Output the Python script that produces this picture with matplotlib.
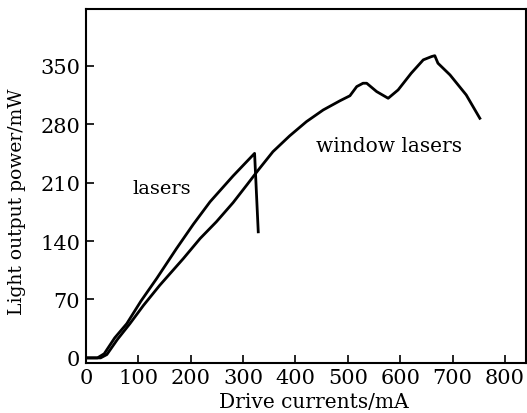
import matplotlib
matplotlib.use('Agg')
import matplotlib.pyplot as plt

plt.rcParams['font.family'] = 'DejaVu Serif'
plt.rcParams.update({'font.size': 14})

# window lasers curve
x_win = [0, 28, 40, 60, 84, 110, 141, 186, 218, 249, 281, 307, 329, 357,
         389, 421, 453, 485, 504, 517, 529, 536, 555, 577, 596, 621, 644,
         660, 666, 672, 695, 726, 752]
y_win = [0, 0, 4, 22, 41, 63, 87, 119, 143, 163, 186, 207, 225, 247,
         266, 283, 297, 308, 314, 325, 329, 329, 319, 311, 321, 341, 357,
         361, 362, 353, 339, 315, 287]

# conventional lasers curve, ends with the sudden drop
x_las = [0, 22, 35, 55, 78, 105, 135, 173, 205, 237, 281, 322, 329]
y_las = [0, 0, 5, 24, 41, 68, 95, 131, 160, 187, 218, 245, 151]

xticks = [0, 100, 200, 300, 400, 500, 600, 700, 800]
yticks = [0, 70, 140, 210, 280, 350]

fig = plt.figure(figsize=(5.27, 4.14), dpi=100)
ax = fig.add_axes([0.163, 0.121, 0.835, 0.855])

ax.plot(x_win, y_win, color='black', lw=2)
ax.plot(x_las, y_las, color='black', lw=2)

ax.text(145, 204, "lasers", ha='center', va='center')
ax.text(578, 255, "window lasers", ha='center', va='center', fontsize=14.5)

ax.set_xlim(0, 840)
ax.set_ylim(-6, 418)
ax.set_xticks(xticks)
ax.set_yticks(yticks)
ax.tick_params(direction='in', length=6, width=1.2, pad=4, labelsize=15)
for s in ax.spines.values():
    s.set_linewidth(1.5)

ax.set_xlabel("Drive currents/mA", fontsize=14.5)
ax.set_ylabel("Light output power/mW", fontsize=13.5)
ax.xaxis.set_label_coords(0.517, -0.083)
ax.yaxis.set_label_coords(-0.135, 0.458)

fig.savefig("out.png", dpi=100)
